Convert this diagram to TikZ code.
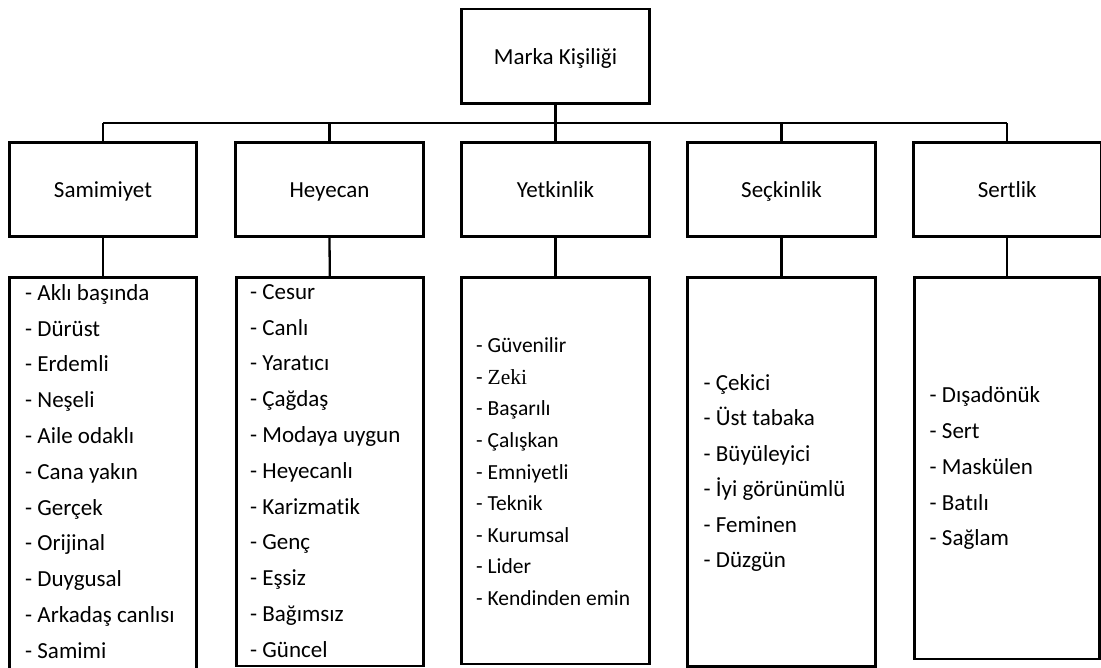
\documentclass[tikz,border=0pt]{standalone}
\usepackage{fontspec}
\setmainfont{Carlito}[Ligatures={NoCommon}]
\newfontfamily\serifword{Liberation Serif}
\begin{document}
\begin{tikzpicture}[x=1bp,y=-1bp,
  box/.style={draw=black, line width=2.9bp, rectangle, inner sep=0pt,
    minimum width=187.5bp, minimum height=94.5bp,
    text height=16bp, text depth=0bp, font=\fontsize{23bp}{28bp}\selectfont},
  listbox/.style={draw=black, line width=2.9bp, rectangle, inner sep=0pt,
    minimum width=187.5bp},
  listtext/.style={anchor=north west, inner sep=0pt, align=left,
    font=\fontsize{23bp}{35.8bp}\selectfont},
  link/.style={draw=black, line width=2.3bp},
]
\useasboundingbox (0,0) rectangle (1101,668);
\clip (0,0) rectangle (1101,668);

% root and the five dimensions
\node[box] (root) at (555.5,56.3) {Marka Kişiliği};
\node[box] (c1) at (103,189.5) {Samimiyet};
\node[box] (c2) at (329.5,189.5) {Heyecan};
\node[box] (c3) at (555.5,189.5) {Yetkinlik};
\node[box] (c4) at (781.5,189.5) {Seçkinlik};
\node[box] (c5) at (1007.3,189.5) {Sertlik};

% trait boxes
\node[listbox, minimum height=412.3bp] (l1) at (103,483.85) {};
\node[listbox, minimum height=388.3bp] (l2) at (329.8,471.85) {};
\node[listbox, minimum height=386.3bp] (l3) at (555.5,470.85) {};
\node[listbox, minimum height=389bp] (l4) at (781.5,472.2) {};
\node[listbox, minimum height=381.3bp, minimum width=185bp] (l5) at (1007.3,468.35) {};

% trait lists
\node[listtext] (t1) at (25,280) {\rule{0pt}{20bp}- Aklı başında\\- Dürüst\\- Erdemli\\- Neşeli\\- Aile odaklı\\- Cana yakın\\- Gerçek\\- Orijinal\\- Duygusal\\- Arkadaş canlısı\\- Samimi};
\node[listtext] (t2) at (250,279) {\rule{0pt}{20bp}- Cesur\\- Canlı\\- Yaratıcı\\- Çağdaş\\- Modaya uygun\\- Heyecanlı\\- Karizmatik\\- Genç\\- Eşsiz\\- Bağımsız\\- Güncel};
\node[listtext, font=\fontsize{21.5bp}{31.6bp}\selectfont] (t3) at (476,332.5) {\rule{0pt}{20bp}- Güvenilir\\- {\serifword Zeki}\\- Başarılı\\- Çalışkan\\- Emniyetli\\- Teknik\\- Kurumsal\\- Lider\\- Kendinden emin};
\node[listtext, font=\fontsize{23bp}{35.5bp}\selectfont] (t4) at (703.5,370) {\rule{0pt}{20bp}- Çekici\\- Üst tabaka\\- Büyüleyici\\- İyi görünümlü\\- Feminen\\- Düzgün};
\node[listtext, font=\fontsize{23bp}{35.8bp}\selectfont] (t5) at (929.5,382.5) {\rule{0pt}{20bp}- Dışadönük\\- Sert\\- Maskülen\\- Batılı\\- Sağlam};

% connectors
\coordinate (bus) at (555.5,123.3);
\draw[link, line width=3bp] (root.south) -- (root.south |- bus);
\draw[link] (c1.north |- bus) -- (c5.north |- bus);
\foreach \c in {c1,c2,c3,c4,c5}
  \draw[link] (\c.north |- bus) -- (\c.north);
\foreach \c/\l in {c1/l1,c2/l2,c3/l3,c4/l4,c5/l5}
  \draw[link] (\c.south) -- (\l.north);
\end{tikzpicture}
\end{document}
